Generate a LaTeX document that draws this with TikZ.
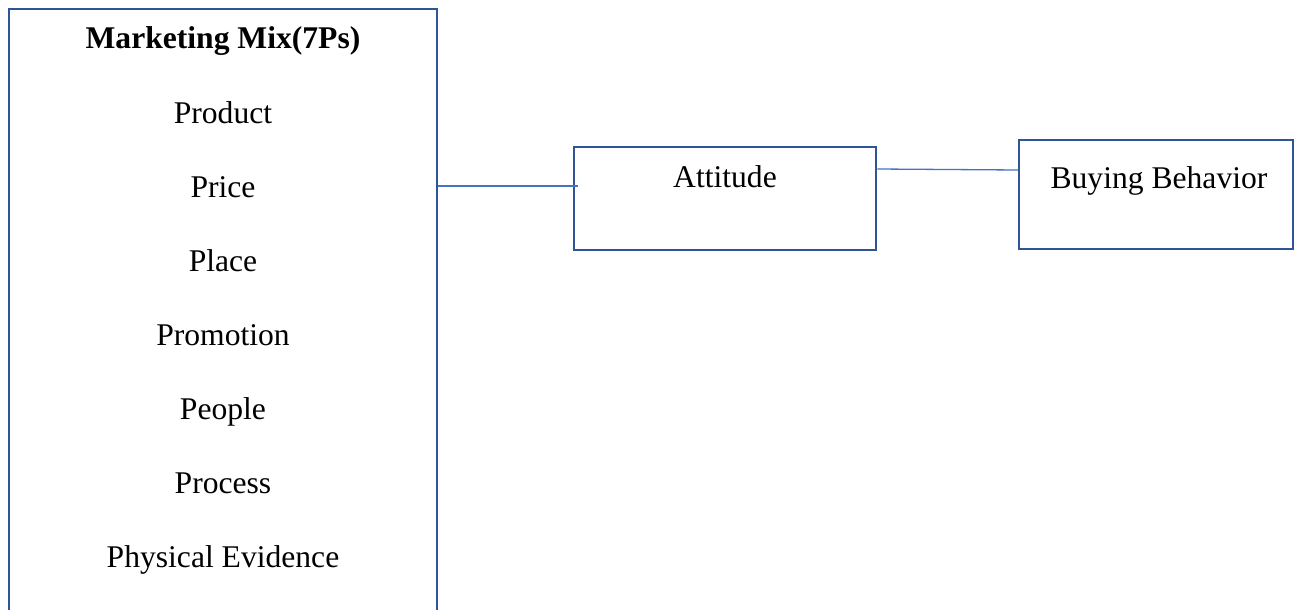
\documentclass[tikz,border=0pt]{standalone}
\usepackage{fontspec}
\setmainfont{Liberation Serif}
\definecolor{boxblue}{HTML}{2F5597}
\definecolor{lineblue}{HTML}{4472C4}
\tikzset{
  boxstyle/.style={draw=boxblue, line width=2.5pt, rectangle, inner sep=0pt},
  lbl/.style={anchor=base, inner sep=0pt, font=\fontsize{31.6}{38}\selectfont},
  conn/.style={draw=lineblue, line width=1.3pt}
}
\begin{document}
\begin{tikzpicture}[x=1pt,y=-1pt]
\clip (0,0) rectangle (1299,610);
\fill[white] (0,0) rectangle (1299,610);
% boxes
\node[boxstyle, minimum width=428pt, minimum height=640pt] (mix) at (223,329) {};
\node[boxstyle, minimum width=302pt, minimum height=103pt] (att) at (725,198.5) {};
\node[boxstyle, minimum width=274pt, minimum height=109pt] (bb) at (1156,194.5) {};
% texts
\node[lbl, font=\fontsize{31.6}{38}\selectfont\bfseries] (title) at (223,49) {Marketing Mix(7Ps)};
\node[lbl] (p1) at (223,123) {Product};
\node[lbl] (p2) at (223,197) {Price};
\node[lbl] (p3) at (223,271) {Place};
\node[lbl] (p4) at (223,345) {Promotion};
\node[lbl] (p5) at (223,419) {People};
\node[lbl] (p6) at (223,493) {Process};
\node[lbl] (p7) at (223,567) {Physical Evidence};
\node[lbl] (attt) at (725,187) {Attitude};
\node[lbl] (bbt) at (1159,188) {Buying Behavior};
% connectors
\coordinate (c1) at (578,186);
\coordinate (c2a) at (876,169);
\coordinate (c2b) at (1019,170);
\draw[conn] (mix.east |- c1) -- (c1);
\draw[conn] (att.east |- c2a) -- (bb.west |- c2b);
\end{tikzpicture}
\end{document}
